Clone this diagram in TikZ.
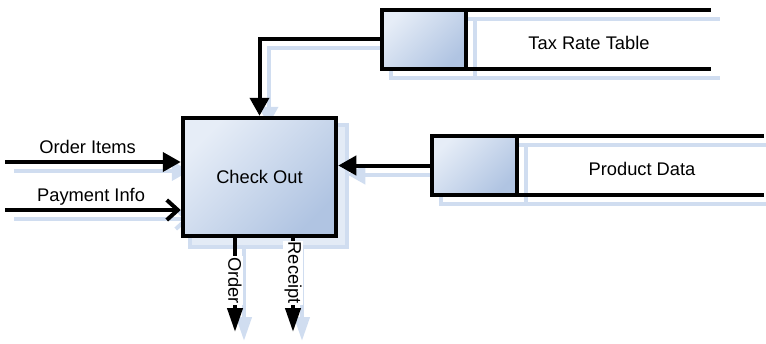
\documentclass[tikz,border=0pt]{standalone}
\usepackage{fontspec}
\setmainfont{Liberation Sans}
\usepackage{tikz}
\usetikzlibrary{arrows.meta, positioning, calc, backgrounds}
\definecolor{mydark}{RGB}{0,0,0}
\definecolor{boxlight}{RGB}{230,237,247}
\definecolor{boxdark}{RGB}{176,196,226}
\definecolor{shadeblue}{RGB}{208,221,240}
\tikzset{
  process/.style={rectangle, draw=mydark, line width=4.5pt,
    top color=boxlight, bottom color=boxdark, shading angle=45,
    minimum width=153pt, minimum height=118pt, inner sep=0pt},
  storekey/.style={rectangle, draw=mydark, line width=4pt,
    top color=boxlight, bottom color=boxdark, shading angle=45,
    minimum width=84pt, minimum height=59pt, inner sep=0pt, outer sep=0pt},
  storeline/.style={line width=4pt, color=mydark},
  arrow/.style={-{Triangle[length=18pt, width=19pt]}, line width=4pt, color=mydark},
  openarrow/.style={-{Straight Barb[length=11pt, width=20pt]}, line width=4pt, color=mydark},
  outarrow/.style={-{Triangle[length=24pt, width=15pt]}, line width=4pt, color=mydark},
  flowlabel/.style={inner sep=1pt, anchor=base},
  outlabel/.style={rotate=-90, fill=white, inner sep=1pt},
  shadowline/.style={color=shadeblue},
  shadowbox/.style={draw=shadeblue, fill=shadeblue!60, line width=4pt}
}

\begin{document}
\begin{tikzpicture}[x=1pt, y=-1pt, font=\fontsize{18.3}{22}\selectfont]
  \useasboundingbox (0,0) rectangle (766,343);

  % Process
  \node[process] (checkout) at (259.5,177) {Check Out};

  % Data stores
  \node[storekey] (taxkey) at (424,39) {};
  \coordinate (taxend) at (711,39);
  \draw[storeline] (taxkey.north west) -- (taxkey.north west -| taxend);
  \draw[storeline] (taxkey.south west) -- (taxkey.south west -| taxend);
  \node (taxname) at (589,43) {Tax Rate Table};

  \node[storekey, minimum width=85pt] (prodkey) at (474,165.5) {};
  \coordinate (prodend) at (764,165.5);
  \draw[storeline] (prodkey.north west) -- (prodkey.north west -| prodend);
  \draw[storeline] (prodkey.south west) -- (prodkey.south west -| prodend);
  \node (prodname) at (642,169) {Product Data};

  % Flows in
  \coordinate (orderin) at (5,162);
  \coordinate (payin) at (5,210);
  \draw[arrow] (orderin) -- (orderin -| checkout.west)
    node[flowlabel, pos=0.47, yshift=9pt] {Order Items};
  \draw[openarrow] (payin) -- (payin -| checkout.west)
    node[flowlabel, pos=0.49, yshift=9pt] {Payment Info};
  \draw[arrow] (taxkey.west) -| (checkout.north);
  \draw[arrow] (prodkey.west) -- (prodkey.west -| checkout.east);

  % Flows out
  \coordinate (orderout) at (235,332);
  \coordinate (receiptout) at (293,332);
  \draw[outarrow] (orderout |- checkout.south) -- (orderout);
  \draw[outarrow] (receiptout |- checkout.south) -- (receiptout);
  \node[outlabel, anchor=east] (orderlbl) at (235,305) {Order};
  \node[outlabel, anchor=east] (receiptlbl) at (293,305) {Receipt};

  % Shadows
  \begin{scope}[on background layer]
  \begin{scope}[transform canvas={xshift=9pt, yshift=-9pt}]
    \draw[shadowbox] (checkout.north west) rectangle (checkout.south east);
    \draw[storeline, shadowline] (taxkey.north west) rectangle (taxkey.south east);
    \draw[storeline, shadowline] (taxkey.north west) -- (taxkey.north west -| taxend);
    \draw[storeline, shadowline] (taxkey.south west) -- (taxkey.south west -| taxend);
    \draw[storeline, shadowline] (prodkey.north west) rectangle (prodkey.south east);
    \draw[storeline, shadowline] (prodkey.north west) -- (prodkey.north west -| prodend);
    \draw[storeline, shadowline] (prodkey.south west) -- (prodkey.south west -| prodend);
    \draw[arrow, shadowline] (orderin) -- (orderin -| checkout.west);
    \draw[openarrow, shadowline] (payin) -- (payin -| checkout.west);
    \draw[arrow, shadowline] (taxkey.west) -| (checkout.north);
    \draw[arrow, shadowline] (prodkey.west) -- (prodkey.west -| checkout.east);
    \draw[outarrow, shadowline] (orderout |- checkout.south) -- (orderout);
    \draw[outarrow, shadowline] (receiptout |- checkout.south) -- (receiptout);
  \end{scope}
  \end{scope}
\end{tikzpicture}
\end{document}
